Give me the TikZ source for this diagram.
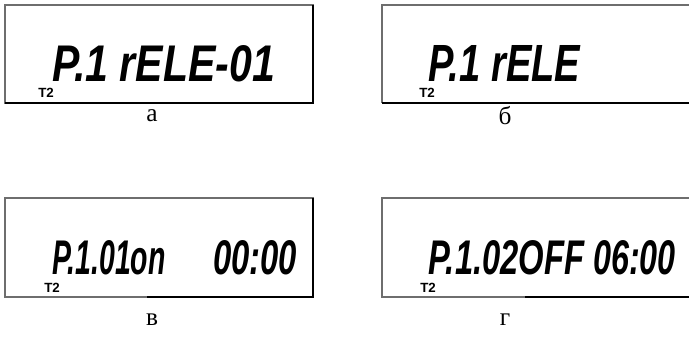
\documentclass[tikz,border=0pt]{standalone}
\usepackage{fontspec}
\usepackage{graphicx}
\setmainfont{Liberation Serif}
\newfontfamily\lcdfont{Liberation Sans}
\newcommand{\lcdtext}[3]{\resizebox{#1}{#2}{\lcdfont\itshape\bfseries #3}}
\tikzset{
  lcdframe/.style={draw={rgb,255:red,110;green,110;blue,110},line width=0.9pt},
  lcdedge/.style={draw=black,line width=1pt},
  tmark/.style={anchor=base west,inner sep=0pt,font=\lcdfont\bfseries\fontsize{10}{10}\selectfont},
  lcd/.style={anchor=base west,inner sep=0pt},
  caption/.style={inner sep=0pt,font=\fontsize{19}{22}\selectfont}
}
\begin{document}
\begin{tikzpicture}[x=0.75pt,y=0.75pt,yscale=-1,xscale=1]
\useasboundingbox (0,0) rectangle (689,343);

%Shape: Rectangle [a]
\draw [lcdframe] (5,5) -- (313,5) -- (313,103) -- (5,103) -- cycle ;
\draw [lcdedge] (5,103) -- (313,103) -- (313,5) ;
%Shape: Open frame [b]
\draw [lcdframe] (689,5) -- (382,5) -- (382,103) ;
\draw [lcdedge] (382,103) -- (689,103) ;
%Shape: Rectangle [v]
\draw [lcdframe] (5,198) -- (313,198) -- (313,297) -- (5,297) -- cycle ;
\draw [lcdedge] (147,297) -- (313,297) -- (313,198) ;
%Shape: Open frame [g]
\draw [lcdframe] (689,198) -- (382,198) -- (382,297) -- (525,297) ;
\draw [lcdedge] (525,297) -- (689,297) ;

% Text Node
\node [lcd] (dispA) at (52,81) {\lcdtext{167pt}{27pt}{P.1 rELE-01}};
\node [tmark] (tA) at (38,97) {T2};
\node [caption] (capA) at (152,116) {а};

% Text Node
\node [lcd] (dispB) at (428,81) {\lcdtext{114pt}{27pt}{P.1 rELE}};
\node [tmark] (tB) at (419,97) {T2};
\node [caption] (capB) at (505,116) {б};

% Text Node
\node [lcd] (dispV) at (52,274) {\lcdtext{85pt}{25.5pt}{P.1.01on}};
\node [lcd] (timeV) at (213,274) {\lcdtext{63pt}{25.5pt}{00:00}};
\node [tmark] (tV) at (44,292) {T2};
\node [caption] (capV) at (152,320) {в};

% Text Node
\node [lcd] (dispG) at (428,274) {\lcdtext{117pt}{25.5pt}{P.1.02OFF}};
\node [lcd] (timeG) at (593,274) {\lcdtext{62pt}{25.5pt}{06:00}};
\node [tmark] (tG) at (420,292) {T2};
\node [caption] (capG) at (505,320) {г};

\end{tikzpicture}
\end{document}
